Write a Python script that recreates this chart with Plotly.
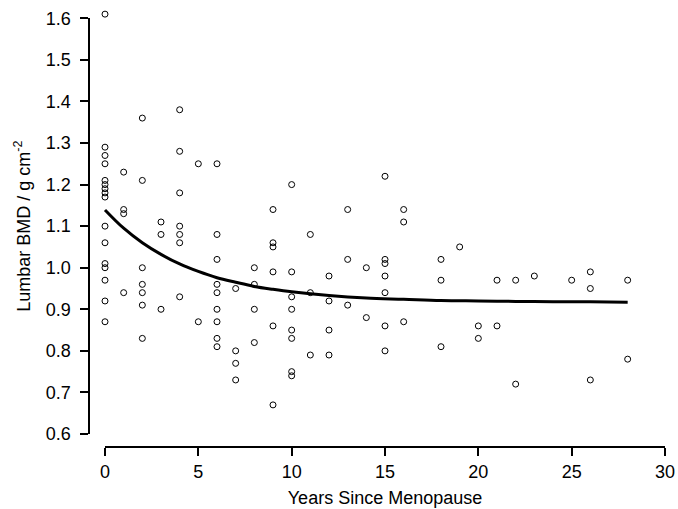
import plotly.graph_objects as go

# Observed data: years since menopause and lumbar BMD
years = (
    [0]*16 + [1]*4 + [2]*7 + [3]*3 + [4]*7 + [5]*2 + [6]*9 + [7]*4 + [8]*4 +
    [9]*6 + [10]*8 + [11]*3 + [12]*4 + [13]*3 + [14]*2 + [15]*7 + [16]*3 +
    [18]*3 + [19]*1 + [20]*2 + [21]*2 + [22]*2 + [23]*1 + [25]*1 + [26]*3 + [28]*2
)
bmd = [
    1.61, 1.29, 1.27, 1.25, 1.21, 1.20, 1.19, 1.18, 1.17, 1.10, 1.06, 1.01, 1.00, 0.97, 0.92, 0.87,
    1.23, 1.14, 1.13, 0.94,
    1.36, 1.21, 1.00, 0.96, 0.94, 0.91, 0.83,
    1.11, 1.08, 0.90,
    1.38, 1.28, 1.18, 1.10, 1.08, 1.06, 0.93,
    1.25, 0.87,
    1.25, 1.08, 1.02, 0.96, 0.94, 0.90, 0.87, 0.83, 0.81,
    0.95, 0.80, 0.77, 0.73,
    1.00, 0.96, 0.90, 0.82,
    1.14, 1.06, 1.05, 0.99, 0.86, 0.67,
    1.20, 0.99, 0.93, 0.90, 0.85, 0.83, 0.75, 0.74,
    1.08, 0.94, 0.79,
    0.98, 0.92, 0.85, 0.79,
    1.14, 1.02, 0.91,
    1.00, 0.88,
    1.22, 1.02, 1.01, 0.98, 0.94, 0.86, 0.80,
    1.14, 1.11, 0.87,
    1.02, 0.97, 0.81,
    1.05,
    0.86, 0.83,
    0.97, 0.86,
    0.97, 0.72,
    0.98,
    0.97,
    0.99, 0.95, 0.73,
    0.97, 0.78,
]

# Fitted curve
curve_x = [0, 1, 2, 3, 4, 5, 6, 7, 8, 9, 10, 12, 14, 16, 18, 20, 22, 24, 26, 28]
curve_y = [1.139, 1.095, 1.060, 1.032, 1.009, 0.991, 0.976, 0.965, 0.955, 0.948,
           0.942, 0.933, 0.927, 0.924, 0.921, 0.920, 0.919, 0.918, 0.918, 0.917]

x_ticks = [0, 5, 10, 15, 20, 25, 30]
y_ticks = [0.6, 0.7, 0.8, 0.9, 1.0, 1.1, 1.2, 1.3, 1.4, 1.5, 1.6]

W, H = 678, 509
FONT = "Liberation Sans, Arial, Helvetica, sans-serif"

# pixel geometry (from top-left)
X0_PX, X30_PX = 105, 665           # x = 0 .. 30
Y06_PX, Y16_PX = 434, 18.3         # y = 0.6 .. 1.6
PX_X = (X30_PX - X0_PX) / 30.0
PX_Y = (Y06_PX - Y16_PX) / 1.0
# invisible data subplot is a little larger so no mark falls outside its range
DL, DR, DT, DB = 90, 675, 4, 445
x_lo = (DL - X0_PX) / PX_X
x_hi = (DR - X0_PX) / PX_X
y_hi = 0.6 + (Y06_PX - DT) / PX_Y
y_lo = 0.6 - (DB - Y06_PX) / PX_Y

fig = go.Figure()
fig.add_trace(go.Scatter(
    x=years, y=bmd, mode="markers",
    marker=dict(symbol="circle-open", size=6, color="black", line=dict(width=1, color="black")),
    showlegend=False,
))
fig.add_trace(go.Scatter(
    x=curve_x, y=curve_y, mode="lines",
    line=dict(color="black", width=3, shape="spline"),
    showlegend=False,
))
# dummy trace for the visible axes subplot
fig.add_trace(go.Scatter(
    x=[None], y=[None], xaxis="x2", yaxis="y2", mode="markers",
    showlegend=False, hoverinfo="skip",
))

fig.update_layout(
    width=W, height=H,
    margin=dict(l=0, r=0, t=0, b=0),
    paper_bgcolor="white", plot_bgcolor="rgba(0,0,0,0)",
    font=dict(family=FONT, size=18, color="black"),
    xaxis=dict(
        domain=[DL / W, DR / W], range=[x_lo, x_hi], anchor="y",
        visible=False, showgrid=False, zeroline=False, automargin=False,
    ),
    yaxis=dict(
        domain=[(H - DB) / H, (H - DT) / H], range=[y_lo, y_hi], anchor="x",
        visible=False, showgrid=False, zeroline=False, automargin=False,
    ),
    xaxis2=dict(
        domain=[X0_PX / W, X30_PX / W], range=[0, 30],
        anchor="free", position=(H - 447) / H, automargin=False,
        tickvals=x_ticks, ticks="outside", ticklen=8, tickwidth=2, tickcolor="black",
        tickfont=dict(size=18),
        showline=True, linewidth=2, linecolor="black",
        showgrid=False, zeroline=False,
        title=dict(text="Years Since Menopause", standoff=10, font=dict(size=18)),
    ),
    yaxis2=dict(
        domain=[(H - Y06_PX) / H, (H - Y16_PX) / H], range=[0.6, 1.6],
        anchor="free", position=88.5 / W, automargin=False,
        tickvals=y_ticks, tickformat=".1f", ticks="outside", ticklen=8, tickwidth=2, tickcolor="black",
        tickfont=dict(size=18), ticklabelstandoff=5,
        showline=True, linewidth=2, linecolor="black",
        showgrid=False, zeroline=False,
        title=dict(text="Lumbar BMD / g cm<sup>-2</sup>", standoff=10, font=dict(size=18)),
    ),
)

fig.write_html("out.html", config={"displayModeBar": False},
               post_script="document.body.style.margin='0';")
